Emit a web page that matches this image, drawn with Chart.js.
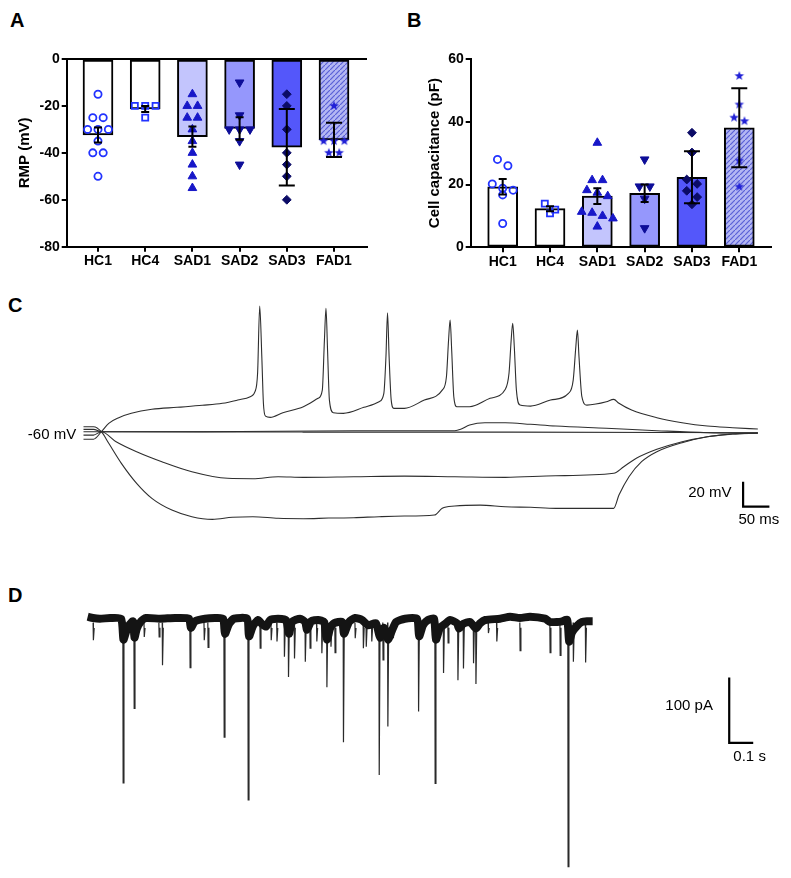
<!DOCTYPE html>
<html>
<head>
<meta charset="utf-8">
<script src="https://cdn.jsdelivr.net/npm/chart.js@4.4.1/dist/chart.umd.min.js"></script>
<style>
body { margin: 0; background: #fff; width: 791px; height: 878px; position: relative; overflow: hidden; font-family: "Liberation Sans", Arial, sans-serif; }
canvas { position: absolute; }
.panel { position: absolute; font-weight: bold; font-size: 20px; line-height: 20px; color: #000; }
</style>
</head>
<body>
<div class="panel" style="left:10px;top:10px">A</div>
<div class="panel" style="left:407px;top:10px">B</div>
<div class="panel" style="left:8px;top:295px">C</div>
<div class="panel" style="left:8px;top:585px">D</div>
<canvas id="chA" width="400" height="290" style="left:0;top:0"></canvas>
<canvas id="chB" width="391" height="290" style="left:400px;top:0"></canvas>
<canvas id="chC" width="791" height="250" style="left:0;top:290px"></canvas>
<canvas id="chD" width="791" height="318" style="left:0;top:560px"></canvas>
<script>
// ---- data ----
var groups = ["HC1", "HC4", "SAD1", "SAD2", "SAD3", "FAD1"];

// A: resting membrane potential (mV)
var rmpTicks = [0, -20, -40, -60, -80];
var rmpMean = [-32.4, -21.3, -33.1, -29.6, -37.6, -34.5];
var rmpErr = [3.2, 1.3, 4.3, 4.8, 16.3, 7.3];
var rmpHC1 = [-15, -25, -25, -30, -30, -30, -35, -40, -40, -50];
var rmpHC4 = [-20, -20, -20, -25];
var rmpSAD1 = [-15, -20, -20, -25, -25, -30, -35, -40, -45, -50, -55];
var rmpSAD2 = [-10, -24, -30, -30, -30, -35, -45];
var rmpSAD3 = [-15, -20, -30, -40, -45, -50, -60];
var rmpFAD1 = [-20, -35, -35, -35, -40, -40];

// B: cell capacitance (pF)
var capTicks = [0, 20, 40, 60];
var capMean = [19.3, 12.3, 16.3, 17.2, 22.3, 38.1];
var capErr = [2.5, 0.8, 2.5, 2.8, 8.3, 12.6];
var capHC1 = [28, 26, 20.2, 18.8, 18.2, 16.7, 7.6];
var capHC4 = [13.9, 12, 10.8];
var capSAD1 = [33.3, 21.4, 21.4, 18.2, 17.4, 16.3, 11.3, 11.0, 10.0, 9.2, 6.6];
var capSAD2 = [28, 19.4, 19.4, 15.5, 6.1];
var capSAD3 = [36.5, 30.2, 21.6, 20.2, 18.0, 16.0, 13.7];
var capFAD1 = [54.6, 45.5, 41.3, 40.2, 27.6, 19.3];

// C: voltage responses [time ms, membrane potential mV]
var vSpiking = [[0,-66],[19,-66],[34,-60],[48,-53.3],[67,-48.8],[91,-45.3],[130,-42.1],[178,-40.5],[226,-38.9],[264,-37.3],[293,-34.7],[317,-32],[326,-28],[331,-13],[335,40.5],[339,0],[342,-37],[346,-47.5],[355,-48.5],[379,-44.8],[418,-40],[446,-33.3],[454,-26.7],[458,13],[461,38.7],[464,5],[467.5,-34.7],[475,-44.8],[494,-45.3],[533,-40.5],[562,-36],[571,-29.3],[575,0],[578,35.2],[581,0],[585,-34.7],[590,-41.3],[610,-41.3],[648,-34.7],[682,-26.7],[690,-16],[694,13],[697,29.3],[700,5],[704,-32],[710,-40],[734,-40],[773,-33.3],[802,-26],[809,-13],[813,13],[816,26.7],[819,8],[823,-26.7],[830,-38.7],[850,-39.5],[888,-34.7],[922,-29.3],[931,-18.7],[936,8],[939,21.3],[942,0],[947.5,-32],[957,-38.7],[974,-37.9],[994,-36],[1008,-34.1],[1018,-37.3],[1042,-42.7],[1090,-48.8],[1138,-52.8],[1186,-55.5],[1234,-56.8],[1282,-57.9]];
var vSmallDep = [[0,-58.1],[19,-58.1],[34,-60],[226,-60],[514,-59.2],[706,-59.2],[717,-58.1],[734,-54.7],[763,-52.8],[802,-52.8],[850,-54.1],[898,-55.5],[994,-57.3],[1090,-59.2],[1186,-60.8],[1282,-61.3]];
var vRest = [[0,-60],[19,-60],[34,-60],[418,-60.3],[802,-60.3],[1282,-60.8]];
var vHyper1 = [[0,-62.7],[19,-62.7],[34,-60],[62,-68],[101,-76],[149,-84],[206,-92],[274,-97.3],[322,-97.6],[370,-96],[418,-96.5],[514,-96],[610,-95.5],[706,-96],[802,-96.5],[898,-95.2],[1008,-93.3],[1027,-88],[1051,-81.3],[1090,-74.1],[1138,-68],[1186,-64],[1234,-61.9],[1282,-61.3]];
var vHyper2 = [[0,-56],[19,-56],[34,-60],[48,-69.3],[72,-85.3],[101,-101.3],[130,-113.3],[168,-122.7],[206,-128],[245,-130.1],[283,-128.5],[322,-128],[370,-129.3],[418,-129.6],[466,-129.1],[514,-128.8],[562,-128],[610,-127.5],[667,-126.7],[682,-121.3],[706,-119.5],[754,-118.7],[802,-120],[850,-120.5],[898,-121.3],[1008,-121.3],[1018,-110.7],[1037,-96],[1061,-84],[1090,-76],[1138,-68.8],[1186,-64],[1234,-61.9],[1282,-60.8]];
var cBarT = [1254, 1254, 1304];
var cBarV = [-100, -120, -120];

// D: synaptic current, baseline band and events (time ms, current pA)
var bandT = [0,22,51,93,139,149,160,172,189,195,205,222,243,301,364,422,430,447,489,530,564,572,589,610,664,672,689,710,726,743,760,793,826,839,851,885,906,914,931,960,985,997,1010,1026,1060,1068,1089,1114,1143,1168,1201,1218,1235,1251,1268,1285,1322,1372,1381,1397,1418,1443,1451,1468,1489,1510,1539,1547,1564,1593,1618,1635,1656,1718,1760,1801,1843,1906,1926,1956,1977,1998,2006,2018,2039,2060,2081,2104];
var bandI = [5,3,2,3,2,-30,-18,-8,-2,-27,-13,-2,3,2,3,2,-12,-2,2,3,2,-21,-6,2,2,-25,-9,0,-6,-10,0,2,0,-21,-3,2,-3,-15,-2,0,-3,-30,-13,-5,-3,-21,-3,3,0,-8,-5,-27,-12,-30,-16,-3,2,2,-25,-8,0,2,-30,-12,-6,0,-5,-13,-6,-3,-13,-5,0,2,5,3,5,2,-3,-3,-2,0,-33,-19,-9,-3,-2,-2];
var evT = [23,147,193,235,297,311,426,485,501,568,668,718,764,788,819,836,861,906,926,954,975,996,1013,1030,1065,1114,1148,1160,1183,1214,1230,1250,1273,1378,1447,1482,1501,1542,1565,1607,1617,1669,1704,1801,1926,1968,2001,2023,2074];
var evI = [-31,-249,-135,-26,-26,-69,-73,-31,-42,-179,-275,-43,-31,-33,-56,-87,-59,-64,-43,-33,-51,-103,-41,-50,-187,-28,-43,-41,-33,-237,-61,-163,-28,-140,-250,-81,-35,-92,-74,-66,-98,-20,-33,-47,-50,-54,-377,-64,-65];
var dBarT = [2673, 2673, 2773];
var dBarI = [-88, -188, -188];

// ---- helpers ----
Chart.defaults.font.family = "'Liberation Sans', Arial, sans-serif";
Chart.defaults.color = "#000";

function starImage(color, r) {
    var cv = document.createElement("canvas");
    var s = Math.ceil(r * 2) + 2;
    cv.width = s; cv.height = s;
    var c = cv.getContext("2d");
    c.fillStyle = color;
    c.beginPath();
    for (var k = 0; k < 10; k++) {
        var rr = k % 2 ? r * 0.42 : r;
        var a = -Math.PI / 2 + k * Math.PI / 5;
        c.lineTo(s / 2 + rr * Math.cos(a), s / 2 + rr * Math.sin(a));
    }
    c.closePath();
    c.fill();
    return cv;
}

function hatch(ctx) {
    var cv = document.createElement("canvas");
    cv.width = 5; cv.height = 5;
    var c = cv.getContext("2d");
    c.fillStyle = "#b4b7f3";
    c.fillRect(0, 0, 5, 5);
    c.strokeStyle = "#5a60d6";
    c.lineWidth = 1.2;
    c.beginPath(); c.moveTo(-1, 6); c.lineTo(6, -1); c.stroke();
    return ctx.createPattern(cv, "repeat");
}

// lay points of similar value side by side, like a scatter dot plot
function spread(vals, i, bin) {
    var s = vals.slice().sort(function (a, b) { return b - a; });
    var out = [], k = 0;
    while (k < s.length) {
        var j = k;
        while (j + 1 < s.length && s[k] - s[j + 1] <= bin) j++;
        var n = j - k + 1;
        for (var m = k; m <= j; m++) out.push({x: i + (m - k - (n - 1) / 2) * 0.22, y: s[m]});
        k = j + 1;
    }
    return out;
}

var marks = [
    {pointStyle: "circle", radius: 3.6, bg: "rgba(0,0,0,0)", color: "#2233ff", bw: 1.8},
    {pointStyle: "rect", radius: 4.3, bg: "rgba(0,0,0,0)", color: "#2233ff", bw: 1.8},
    {pointStyle: "triangle", radius: 5, bg: "#1717c8", color: "#1717c8", bw: 1},
    {pointStyle: "triangle", radius: 5, bg: "#0d0d98", color: "#0d0d98", bw: 1, rot: 180},
    {pointStyle: "rectRot", radius: 4.4, bg: "#0b0b66", color: "#0b0b66", bw: 1},
    {pointStyle: starImage("#2121d6", 5), radius: 5, bg: "#2121d6", color: "#2121d6", bw: 1}
];

var errorBars = {
    id: "errorBars",
    afterDatasetsDraw: function (chart) {
        var o = chart.options.plugins.errorBars;
        var xs = chart.scales.x, ys = chart.scales.y, c = chart.ctx;
        c.save();
        c.strokeStyle = "#000";
        c.lineWidth = 2;
        o.means.forEach(function (m, i) {
            var x = xs.getPixelForValue(i);
            var y1 = ys.getPixelForValue(m + o.errs[i]);
            var y2 = ys.getPixelForValue(m - o.errs[i]);
            var w = o.caps[i] / 2;
            c.beginPath();
            c.moveTo(x, y1); c.lineTo(x, y2);
            c.moveTo(x - w, y1); c.lineTo(x + w, y1);
            c.moveTo(x - w, y2); c.lineTo(x + w, y2);
            c.stroke();
        });
        c.restore();
    }
};

var textLabels = {
    id: "textLabels",
    afterDraw: function (chart) {
        var items = chart.options.plugins.textLabels.items;
        var xs = chart.scales.x, ys = chart.scales.y, c = chart.ctx;
        c.save();
        c.fillStyle = "#000";
        c.textBaseline = "middle";
        items.forEach(function (it) {
            c.font = "15px 'Liberation Sans', Arial, sans-serif";
            c.textAlign = it.align;
            c.fillText(it.text, xs.getPixelForValue(it.x), ys.getPixelForValue(it.y));
        });
        c.restore();
    }
};

function barPanel(id, means, errs, points, caps, ticks, yTitle, lay) {
    var ctx = document.getElementById(id).getContext("2d");
    var fills = ["#ffffff", "#ffffff", "#c3c5fd", "#9597fc", "#5457fa", hatch(ctx)];
    var datasets = [{
        type: "bar",
        data: means.map(function (m, i) { return {x: i, y: m}; }),
        backgroundColor: fills,
        borderColor: "#000",
        borderWidth: 2,
        borderSkipped: false,
        barThickness: 30,
        order: 2
    }];
    points.forEach(function (vals, i) {
        var mk = marks[i];
        datasets.push({
            type: "scatter",
            data: spread(vals, i, lay.bin),
            pointStyle: mk.pointStyle,
            pointRadius: mk.radius,
            pointBackgroundColor: mk.bg,
            pointBorderColor: mk.color,
            pointBorderWidth: mk.bw,
            pointRotation: mk.rot || 0,
            order: 1
        });
    });
    var lo = Math.min.apply(null, ticks), hi = Math.max.apply(null, ticks);
    return new Chart(ctx, {
        type: "bar",
        data: {datasets: datasets},
        plugins: [errorBars],
        options: {
            responsive: false,
            animation: false,
            layout: {padding: {left: lay.left, right: lay.right, top: 59, bottom: 0}},
            plugins: {
                legend: {display: false},
                tooltip: {enabled: false},
                errorBars: {means: means, errs: errs, caps: caps}
            },
            scales: {
                x: {
                    type: "linear",
                    min: lay.xmin, max: lay.xmax,
                    offset: false,
                    afterBuildTicks: function (axis) { axis.ticks = groups.map(function (g, i) { return {value: i}; }); },
                    afterFit: function (axis) { axis.height = lay.xh; },
                    ticks: {
                        callback: function (v) { return groups[v]; },
                        autoSkip: false, maxRotation: 0, padding: 1,
                        font: {size: 14, weight: "bold"}, color: "#000"
                    },
                    grid: {offset: false, drawOnChartArea: false, color: "#000", tickColor: "#000", tickLength: 5, lineWidth: 2},
                    border: {color: "#000", width: 2}
                },
                y: {
                    min: lo, max: hi,
                    afterBuildTicks: function (axis) { axis.ticks = ticks.map(function (v) { return {value: v}; }); },
                    afterFit: function (axis) { axis.width = lay.yw; },
                    ticks: {padding: 2, font: {size: 14, weight: "bold"}, color: "#000"},
                    grid: {
                        color: function (c) { return c.tick && c.tick.value === 0 ? "#000" : "rgba(0,0,0,0)"; },
                        tickColor: "#000", tickLength: 5, lineWidth: 2
                    },
                    border: {color: "#000", width: 2},
                    title: {display: true, text: yTitle, font: {size: 15, weight: "bold"}, color: "#000", padding: {top: 4, bottom: 4}}
                }
            }
        }
    });
}

barPanel("chA", rmpMean, rmpErr,
    [rmpHC1, rmpHC4, rmpSAD1, rmpSAD2, rmpSAD3, rmpFAD1],
    [8, 8, 8, 8, 16, 16], rmpTicks, "RMP (mV)",
    {left: 12, right: 33, yw: 54.7, xh: 43.3, xmin: -0.663, xmax: 5.699, bin: 3.8});

barPanel("chB", capMean, capErr,
    [capHC1, capHC4, capSAD1, capSAD2, capSAD3, capFAD1],
    [8, 8, 8, 8, 16, 16], capTicks, "Cell capacitance (pF)",
    {left: 22, right: 20.3, yw: 48.7, xh: 42.7, xmin: -0.676, xmax: 5.664, bin: 2.9});

// ---- C: voltage traces ----
function pairs(p) { return p.map(function (q) { return {x: q[0], y: q[1]}; }); }
function trace(p) {
    return {data: pairs(p), showLine: true, pointRadius: 0, borderColor: "#2e2e2e", borderWidth: 1.1,
        cubicInterpolationMode: "monotone", clip: false};
}

new Chart(document.getElementById("chC").getContext("2d"), {
    type: "scatter",
    data: {datasets: [
        trace(vSpiking), trace(vSmallDep), trace(vRest), trace(vHyper1), trace(vHyper2),
        {data: cBarT.map(function (t, i) { return {x: t, y: cBarV[i]}; }), showLine: true, pointRadius: 0,
            borderColor: "#000", borderWidth: 2.2, tension: 0, clip: false}
    ]},
    plugins: [textLabels],
    options: {
        responsive: false,
        animation: false,
        layout: {padding: {left: 83.5, right: 13.18, top: 10.45, bottom: 8.3}},
        plugins: {
            legend: {display: false}, tooltip: {enabled: false},
            textLabels: {items: [
                {text: "-60 mV", x: -14, y: -62.6, align: "right"},
                {text: "20 mV", x: 1232, y: -109.3, align: "right"},
                {text: "50 ms", x: 1284, y: -130.6, align: "center"}
            ]}
        },
        scales: {
            x: {type: "linear", display: false, min: 0, max: 1320},
            y: {type: "linear", display: false, min: -140, max: 45}
        }
    }
});

// ---- D: current trace ----
var eventPts = [];
evT.forEach(function (t, i) {
    eventPts.push({x: t - 0.5, y: -4}, {x: t + 0.7, y: evI[i]}, {x: t + 4, y: -12}, {x: t + 4, y: null});
});

new Chart(document.getElementById("chD").getContext("2d"), {
    type: "scatter",
    data: {datasets: [
        {data: bandT.map(function (t, i) { return {x: t, y: bandI[i]}; }), showLine: true, pointRadius: 0,
            borderColor: "#141414", borderWidth: 8, tension: 0.2, borderJoinStyle: "round", clip: false},
        {data: eventPts, showLine: true, spanGaps: false, pointRadius: 0,
            borderColor: "#2a2a2a", borderWidth: 1.2, tension: 0, clip: false},
        {data: dBarT.map(function (t, i) { return {x: t, y: dBarI[i]}; }), showLine: true, pointRadius: 0,
            borderColor: "#000", borderWidth: 2.2, tension: 0, clip: false}
    ]},
    plugins: [textLabels],
    options: {
        responsive: false,
        animation: false,
        layout: {padding: {left: 87.7, right: 31.3, top: 33.84, bottom: 9.48}},
        plugins: {
            legend: {display: false}, tooltip: {enabled: false},
            textLabels: {items: [
                {text: "100 pA", x: 2605, y: -131, align: "right"},
                {text: "0.1 s", x: 2758, y: -209, align: "center"}
            ]}
        },
        scales: {
            x: {type: "linear", display: false, min: 0, max: 2800},
            y: {type: "linear", display: false, min: -380, max: 40}
        }
    }
});
</script>
</body>
</html>
